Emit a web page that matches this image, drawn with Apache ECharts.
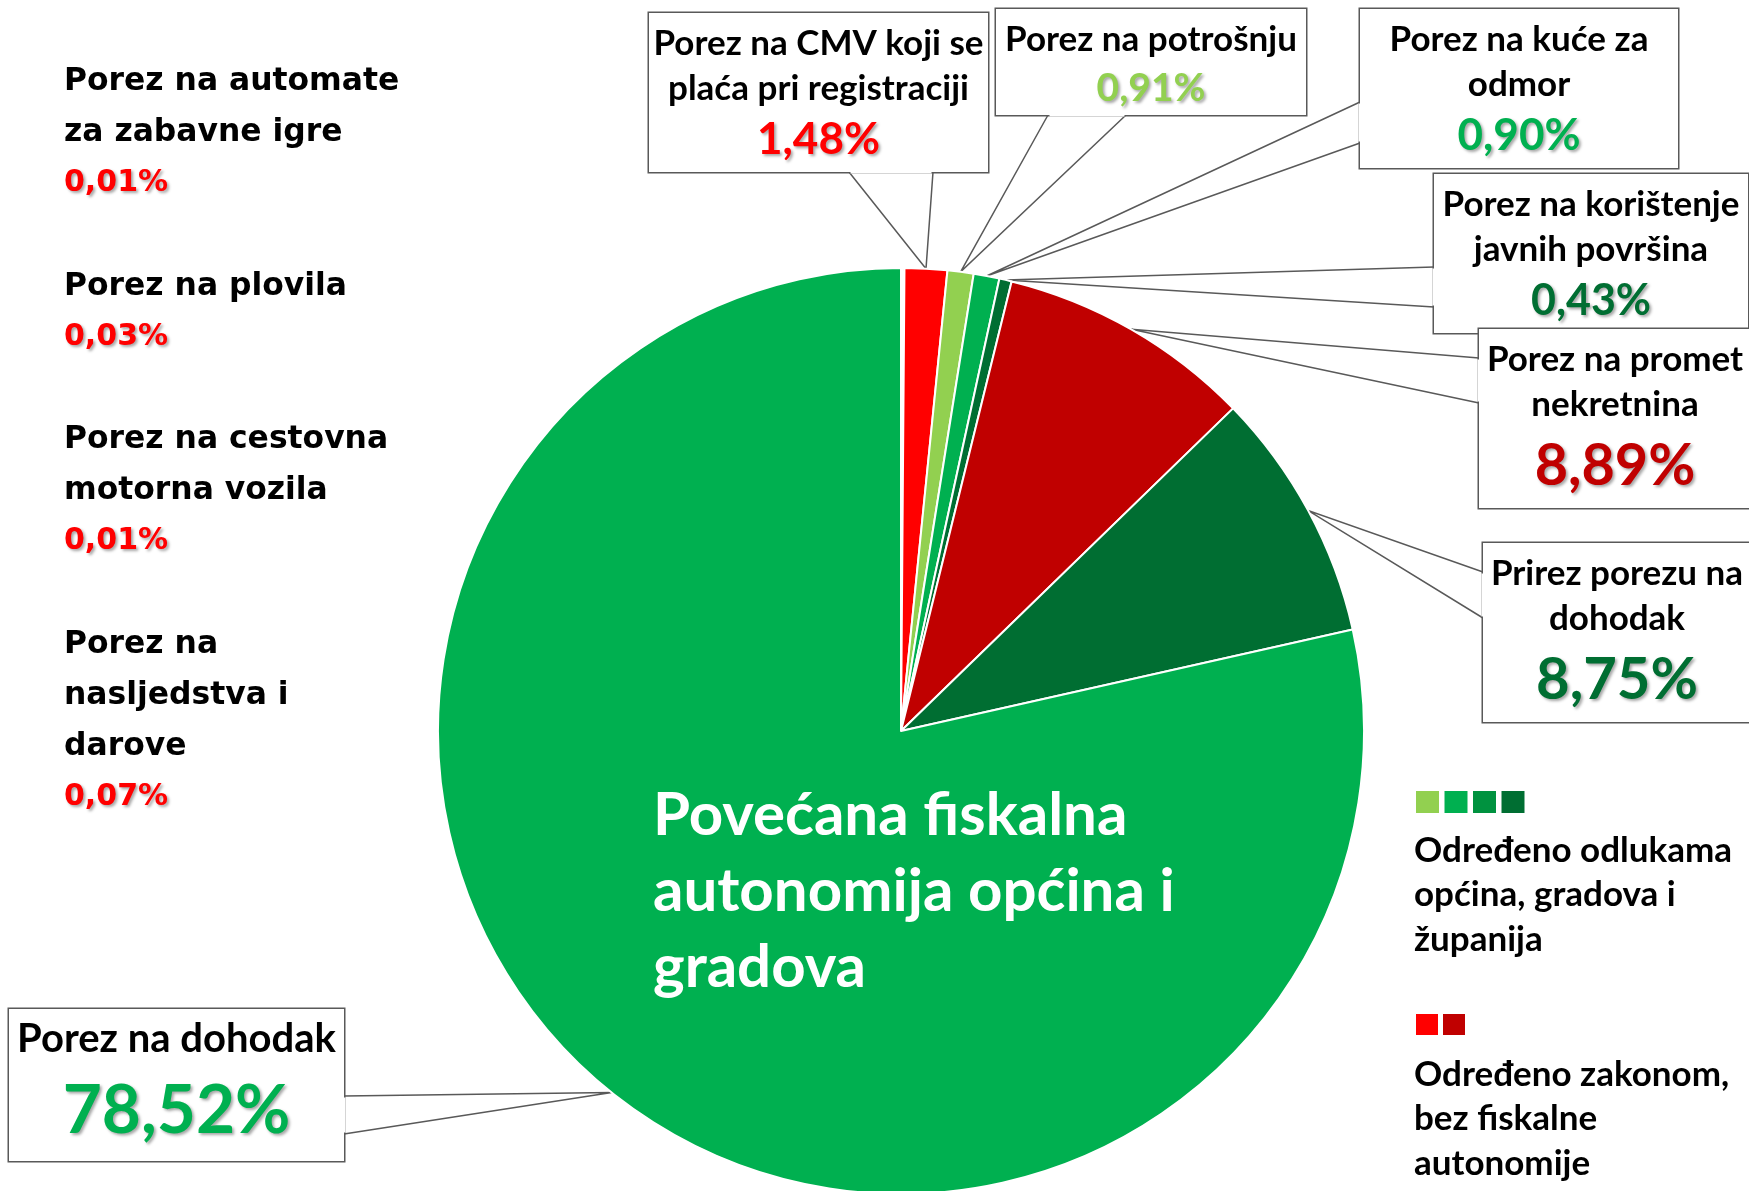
<!DOCTYPE html>
<html>
<head>
<meta charset="utf-8">
<title>Struktura prihoda</title>
<script src="https://cdn.jsdelivr.net/npm/echarts@6/dist/echarts.min.js"></script>
<style>
  html, body { margin: 0; padding: 0; background: #fff; }
  #chart { width: 1749px; height: 1191px; }
</style>
</head>
<body>
<div id="chart"></div>
<script>
  // udjeli poreza u %, redom od 12 sati u smjeru kazaljke
  var names = [
    'Porez na automate\nza zabavne igre',
    'Porez na plovila',
    'Porez na cestovna\nmotorna vozila',
    'Porez na\nnasljedstva i\ndarove',
    'Porez na CMV koji se\nplaća pri registraciji',
    'Porez na potrošnju',
    'Porez na kuće za\nodmor',
    'Porez na korištenje\njavnih površina',
    'Porez na promet\nnekretnina',
    'Prirez porezu na\ndohodak',
    'Porez na dohodak'
  ];
  var values = [0.01, 0.03, 0.01, 0.07, 1.48, 0.91, 0.90, 0.43, 8.89, 8.75, 78.52];
  var colors = ['#FF0000', '#FF0000', '#FF0000', '#FF0000', '#FF0000', '#92D050',
                '#00B050', '#006E32', '#C00000', '#006E32', '#00B050'];

  var legendGreen = ['#92D050', '#00B050', '#00923F', '#006E32'];
  var legendRed = ['#FF0000', '#C00000'];

  // polozaj natpisa (lijevi stupac bez okvira)
  var sideTop = { 0: 56, 1: 261, 2: 414, 3: 619 };
  // okviri s oblacicima: x, y, sirina, visina, font naslova, font postotka, visina retka, hvatista klina
  var boxes = {
    4:  { x: 649,  y: 13,   w: 339, h: 159, ts: 35, ps: 44, lh: 58, a: [[849, 172], [933, 172]] },
    5:  { x: 996,  y: 9,    w: 310, h: 106, ts: 35, ps: 39, lh: 52, a: [[1048, 115], [1126, 115]] },
    6:  { x: 1360, y: 9,    w: 318, h: 159, ts: 35, ps: 44, lh: 58, a: [[1360, 102], [1360, 143]] },
    7:  { x: 1434, y: 174,  w: 314, h: 159, ts: 35, ps: 43, lh: 58, a: [[1434, 267], [1434, 307]] },
    8:  { x: 1479, y: 329,  w: 272, h: 179, ts: 35, ps: 57.5, lh: 78, a: [[1479, 358], [1479, 403]] },
    9:  { x: 1483, y: 543,  w: 268, h: 179, ts: 35, ps: 58, lh: 78, a: [[1483, 572], [1483, 618]] },
    10: { x: 9,    y: 1009, w: 335, h: 152, ts: 40, ps: 67.5, lh: 98, a: [[344, 1096], [344, 1134]] }
  };

  var FONT = 'Lato, "Open Sans", sans-serif';
  var shadow = { textShadowColor: 'rgba(0,0,0,0.35)', textShadowBlur: 3, textShadowOffsetX: 2, textShadowOffsetY: 2 };

  function pct(v) {
    return v.toFixed(2).replace('.', ',') + '%';
  }

  var pieData = values.map(function (v, i) {
    var item = { name: names[i], value: v, itemStyle: { color: colors[i] } };
    var b = boxes[i];
    if (b) {
      item.label = {
        width: b.w,
        height: b.h - 8,
        padding: [8, 0, 0, 0],
        backgroundColor: '#fff',
        borderColor: '#595959',
        borderWidth: 1.5,
        rich: {
          t: { fontFamily: FONT, fontWeight: 'bold', fontSize: b.ts, lineHeight: 45, color: '#000', align: 'center' },
          p: Object.assign({ fontFamily: FONT, fontWeight: 'bold', fontSize: b.ps, lineHeight: b.lh, color: colors[i], align: 'center' }, shadow)
        }
      };
    } else {
      item.labelLine = { show: false };
      item.label = {
        rich: {
          t: { fontFamily: '"DejaVu Sans", sans-serif', fontWeight: 'bold', fontSize: 31.4, lineHeight: 51, color: '#000', align: 'left' },
          p: Object.assign({ fontFamily: '"DejaVu Sans", sans-serif', fontWeight: 'bold', fontSize: 30, lineHeight: 51, color: colors[i], align: 'left' }, shadow)
        }
      };
    }
    return item;
  });

  var chart = echarts.init(document.getElementById('chart'));

  var graphics = [{
    type: 'text',
    left: 653, top: 778,
    style: {
      text: 'Povećana fiskalna\nautonomija općina i\ngradova',
      fill: '#fff', fontFamily: FONT, fontWeight: 'bold', fontSize: 60, lineHeight: 76
    },
    z: 100
  }, {
    type: 'text',
    left: 1414, top: 828,
    style: { text: 'Određeno odlukama\nopćina, gradova i\nžupanija', fill: '#000',
             fontFamily: FONT, fontWeight: 'bold', fontSize: 35, lineHeight: 44.5 }
  }, {
    type: 'text',
    left: 1414, top: 1052,
    style: { text: 'Određeno zakonom,\nbez fiskalne\nautonomije', fill: '#000',
             fontFamily: FONT, fontWeight: 'bold', fontSize: 35, lineHeight: 44.5 }
  }];
  legendGreen.forEach(function (c, i) {
    graphics.push({ type: 'rect', shape: { x: 1416 + i * 28.5, y: 791, width: 23, height: 22 }, style: { fill: c } });
  });
  legendRed.forEach(function (c, i) {
    graphics.push({ type: 'rect', shape: { x: 1416 + i * 27, y: 1014, width: 22, height: 21 }, style: { fill: c } });
  });
  // otvor u rubu okvira gdje se spaja klin oblacica
  Object.keys(boxes).forEach(function (k) {
    var a = boxes[k].a;
    var vertical = a[0][0] === a[1][0];
    var p0 = vertical ? [a[0][0], a[0][1] + 1.5] : [a[0][0] + 1.5, a[0][1]];
    var p1 = vertical ? [a[1][0], a[1][1] - 1.5] : [a[1][0] - 1.5, a[1][1]];
    graphics.push({
      type: 'line', z: 50,
      shape: { x1: p0[0], y1: p0[1], x2: p1[0], y2: p1[1] },
      style: { stroke: '#fff', lineWidth: 3 }
    });
  });

  var option = {
    animation: false,
    backgroundColor: '#fff',
    graphic: graphics,
    series: [{
      type: 'pie',
      center: [901, 731],
      radius: 463,
      startAngle: 90,
      clockwise: true,
      avoidLabelOverlap: false,
      emphasis: { disabled: true },
      itemStyle: { borderColor: '#fff', borderWidth: 2 },
      label: {
        show: true,
        position: 'outside',
        formatter: function (p) {
          return '{t|' + p.name + '}\n{p|' + pct(p.value) + '}';
        }
      },
      labelLine: {
        show: true,
        length: 10,
        length2: 10,
        lineStyle: { color: '#595959', width: 1.5 }
      },
      labelLayout: function (params) {
        var i = params.dataIndex;
        var b = boxes[i];
        if (b) {
          var res = { x: b.x + b.w / 2, y: b.y, align: 'center', verticalAlign: 'top' };
          if (params.labelLinePoints) {
            res.labelLinePoints = [b.a[0], params.labelLinePoints[0], b.a[1]];
          }
          return res;
        }
        return { x: 64, y: sideTop[i], align: 'left', verticalAlign: 'top' };
      },
      data: pieData
    }]
  };

  chart.setOption(option);
</script>
</body>
</html>
